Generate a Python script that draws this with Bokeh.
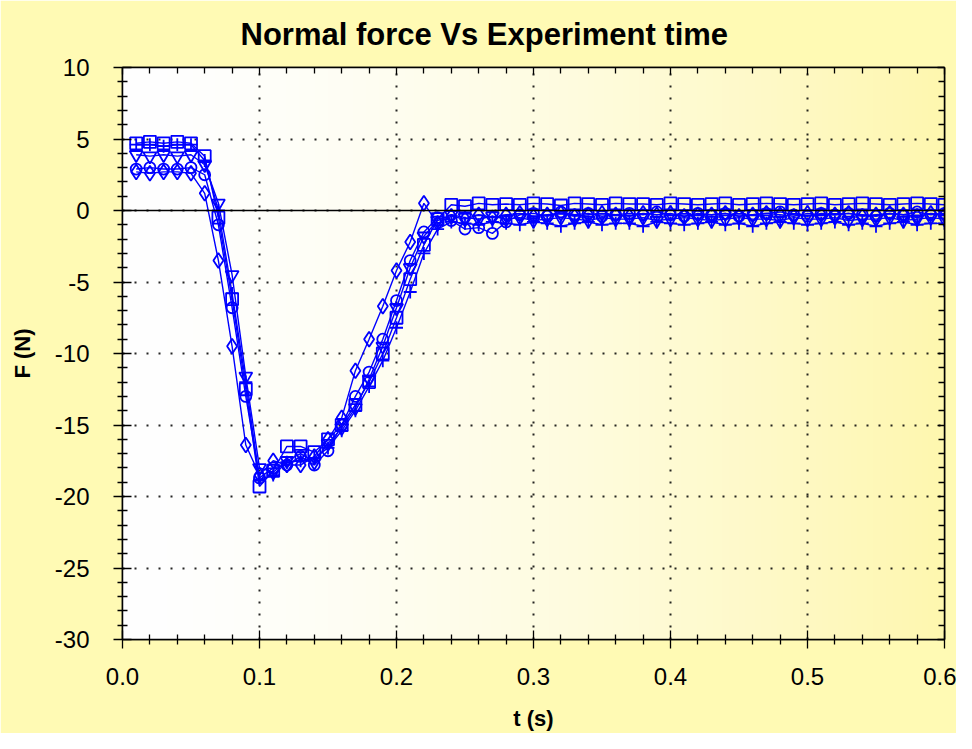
import numpy as np
from bokeh.plotting import figure
from bokeh.models import (LinearAxis, FixedTicker, PrintfTickFormatter,
                          Range1d, Span, Grid)
from bokeh.embed import file_html
from bokeh.resources import INLINE

# ---------------- data ----------------
t = [0.01, 0.02, 0.03, 0.04, 0.05, 0.06, 0.07, 0.08, 0.09, 0.10,
     0.11, 0.12, 0.13, 0.14, 0.15, 0.16, 0.17, 0.18, 0.19, 0.20,
     0.21, 0.22, 0.23, 0.24, 0.25, 0.26, 0.27, 0.28, 0.29, 0.30,
     0.31, 0.32, 0.33, 0.34, 0.35, 0.36, 0.37, 0.38, 0.39, 0.40,
     0.41, 0.42, 0.43, 0.44, 0.45, 0.46, 0.47, 0.48, 0.49, 0.50,
     0.51, 0.52, 0.53, 0.54, 0.55, 0.56, 0.57, 0.58, 0.59, 0.60]

f_square = [4.7, 4.8, 4.7, 4.8, 4.7, 3.8, -0.5, -6.2, -12.5, -19.3,
            -18.2, -16.5, -16.5, -16.9, -16.0, -15.0, -13.6, -12.0, -10.0, -7.5,
            -4.8, -2.4, -0.6, 0.4, 0.3, 0.5, 0.4,
            0.45, 0.4, 0.5, 0.45, 0.35, 0.5, 0.45, 0.4, 0.5, 0.45, 0.45, 0.4, 0.5,
            0.45, 0.4, 0.45, 0.5, 0.4, 0.45, 0.5, 0.45, 0.4, 0.45, 0.5, 0.4, 0.45,
            0.5, 0.45, 0.4, 0.45, 0.5, 0.45, 0.4]

f_plus = [4.6, 4.6, 4.5, 4.6, 4.6, 3.5, 0.0, -5.8, -12.0, -18.8,
          -18.5, -17.6, -17.5, -17.3, -16.6, -15.4, -14.0, -12.3, -10.5, -8.2,
          -5.7, -3.0, -1.3, -0.8, -0.9, -1.0, -0.8,
          -0.9, -1.0, -0.8, -0.9, -1.1, -0.9, -0.8, -1.0, -0.9, -0.9, -1.1, -0.8,
          -0.9, -1.0, -0.9, -0.8, -1.0, -0.9, -1.1, -0.9, -0.8, -0.9, -1.0, -0.9,
          -0.8, -1.0, -0.9, -1.1, -0.9, -0.8, -1.0, -0.9, -0.9]

f_triangle = [3.9, 3.8, 3.9, 3.8, 3.9, 3.2, 0.5, -4.5, -11.6, -18.0,
              -18.3, -17.5, -17.0, -17.6, -16.3, -15.2, -13.8, -11.8, -9.5, -6.8,
              -4.0, -1.8, -0.7, -0.3, -0.5, -0.6, -0.4,
              -0.6, -0.5, -0.7, -0.6, -0.5, -0.6, -0.7, -0.5, -0.6, -0.6, -0.5, -0.7,
              -0.6, -0.5, -0.6, -0.7, -0.6, -0.5, -0.6, -0.6, -0.7, -0.5, -0.6, -0.6,
              -0.5, -0.7, -0.6, -0.6, -0.5, -0.7, -0.6, -0.5, -0.6]

f_circle = [2.9, 3.0, 2.9, 2.9, 3.0, 2.5, -1.0, -6.8, -13.0, -18.7,
            -18.0, -17.8, -17.2, -17.8, -16.8, -15.0, -13.0, -11.3, -9.0, -6.3,
            -3.5, -1.5, -0.5, -0.7, -1.3, -1.2, -1.6,
            -0.8, -0.3, -0.2, -0.4, -0.1, -0.3, -0.2, -0.4, -0.3, -0.2, -0.3, -0.1,
            -0.3, -0.4, -0.2, -0.3, -0.2, -0.4, -0.3, -0.2, -0.1, -0.3, -0.4, -0.2,
            -0.3, -0.2, -0.3, -0.4, -0.2, -0.3, -0.1, -0.3, -0.2]

f_diamond = [2.7, 2.6, 2.7, 2.7, 2.6, 1.2, -3.5, -9.5, -16.4, -18.5,
             -17.5, -17.8, -17.8, -17.2, -16.0, -14.5, -11.2, -9.0, -6.7, -4.2,
             -2.2, 0.5, -0.9, -0.4, -0.6, -0.3, -0.5,
             -0.3, -0.2, -0.4, -0.3, -0.2, -0.4, -0.3, -0.2, -0.3, -0.4, -0.2, -0.3,
             -0.2, -0.4, -0.3, -0.3, -0.2, -0.4, -0.3, -0.2, -0.3, -0.4, -0.2, -0.3,
             -0.3, -0.2, -0.4, -0.3, -0.2, -0.3, -0.4, -0.2, -0.3]

x_ticks = [0.0, 0.1, 0.2, 0.3, 0.4, 0.5, 0.6]
y_ticks = [-30, -25, -20, -15, -10, -5, 0, 5, 10]
x_start, x_end = 0.0, 0.6
y_start, y_end = -30, 10

# ---------------- styling ----------------
FONT = "Liberation Sans"
BLUE = "#0000FF"
OUTER = "#FFFAB4"

x_minor = [round(a + i * 0.02, 3) for a in x_ticks[:-1] for i in range(1, 5)]
y_minor = [a + i for a in y_ticks[:-1] for i in range(1, 5)]
xt = FixedTicker(ticks=x_ticks, minor_ticks=x_minor)
yt = FixedTicker(ticks=y_ticks, minor_ticks=y_minor)

p = figure(width=956, height=733, output_backend="svg", toolbar_location=None,
           x_range=Range1d(x_start, x_end), y_range=Range1d(y_start, y_end),
           x_axis_type=None, y_axis_type=None,
           min_border_left=122, min_border_right=12,
           min_border_top=67, min_border_bottom=94,
           background_fill_color="white", border_fill_color=OUTER,
           outline_line_color="black", outline_line_width=1.5)

p.title.text = "Normal force Vs Experiment time"
p.title.text_font = FONT
p.title.text_font_size = "31px"
p.title.text_font_style = "bold"
p.title.text_color = "black"
p.title.align = "left"
p.title.vertical_align = "top"
p.title.offset = 118
p.title.standoff = 28

# gradient background of the plot area (white -> pale yellow)
n = 256
g = np.linspace(0, 1, n) ** 1.5
img = np.zeros((2, n), dtype=np.uint32)
view = img.view(dtype=np.uint8).reshape((2, n, 4))
view[:, :, 0] = (255 - 1 * g).astype(np.uint8)
view[:, :, 1] = (255 - 8 * g).astype(np.uint8)
view[:, :, 2] = (255 - 80 * g).astype(np.uint8)
view[:, :, 3] = 255
p.image_rgba(image=[img], x=x_start, y=y_start, dw=x_end - x_start,
             dh=y_end - y_start, level="image")


def style_axis(ax, labels=True):
    ax.axis_line_color = "black"
    ax.axis_line_width = 1.5
    ax.major_tick_line_color = "black"
    ax.minor_tick_line_color = "black"
    ax.major_tick_line_width = 1.3
    ax.minor_tick_line_width = 1.3
    ax.major_label_text_font = FONT
    ax.major_label_text_font_size = "24px"
    ax.major_label_text_color = "black"
    ax.axis_label_text_font = FONT
    ax.axis_label_text_font_size = "22px"
    ax.axis_label_text_font_style = "bold"
    ax.axis_label_text_color = "black"
    if labels:
        ax.major_tick_out = 9
        ax.major_tick_in = 9
        ax.minor_tick_out = 5
        ax.minor_tick_in = 5
    else:
        ax.major_tick_out = 0
        ax.major_tick_in = 7
        ax.minor_tick_out = 0
        ax.minor_tick_in = 6
        ax.major_label_text_font_size = "1px"
        ax.major_label_text_color = None
        ax.major_label_text_alpha = 0
        ax.major_label_standoff = 0


xaxis = LinearAxis(ticker=xt, formatter=PrintfTickFormatter(format="%.1f"),
                   axis_label="t (s)")
style_axis(xaxis)
xaxis.major_label_standoff = 19
xaxis.axis_label_standoff = 18
p.add_layout(xaxis, "below")

yaxis = LinearAxis(ticker=yt, formatter=PrintfTickFormatter(format="%d"),
                   axis_label="F (N)")
style_axis(yaxis)
yaxis.major_label_standoff = 24
yaxis.axis_label_standoff = 17
p.add_layout(yaxis, "left")

top_axis = LinearAxis(ticker=xt)
style_axis(top_axis, labels=False)
p.add_layout(top_axis, "above")
right_axis = LinearAxis(ticker=yt)
style_axis(right_axis, labels=False)
p.add_layout(right_axis, "right")

for dim, tk in ((0, xt), (1, yt)):
    p.add_layout(Grid(dimension=dim, ticker=tk, grid_line_color="black",
                      grid_line_width=2, grid_line_dash="2 10",
                      grid_line_alpha=0.85))

p.add_layout(Span(location=0, dimension="width", line_color="black",
                  line_width=1.5))

series = [
    (f_plus, "cross", 13),
    (f_triangle, "inverted_triangle", 13),
    (f_circle, "circle", 11),
    (f_diamond, "diamond", 15),
    (f_square, "square", 12),
]
for vals, marker, size in series:
    p.line(t, vals, line_color=BLUE, line_width=1.4)
    p.scatter(t, vals, marker=marker, size=size, line_color=BLUE,
              fill_color=None, line_width=1.8)

open("out.html", "w").write(file_html(p, INLINE))
